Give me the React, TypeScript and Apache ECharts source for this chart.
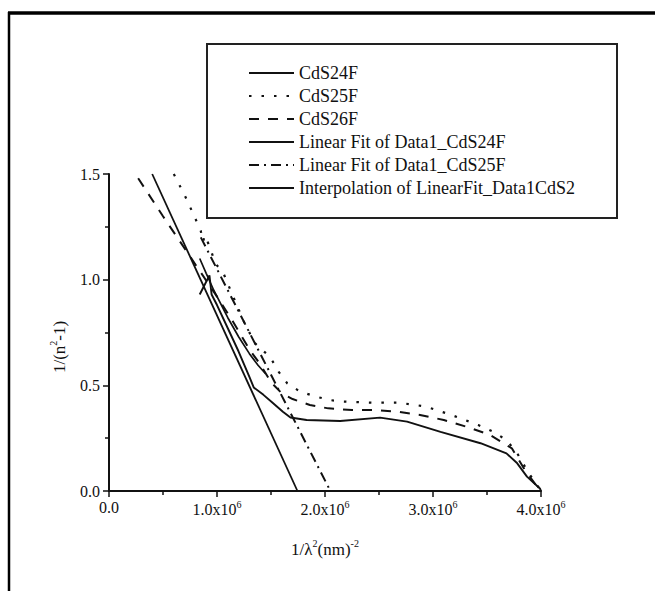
import React, { useEffect, useRef } from 'react';
import * as echarts from 'echarts';

// Series names (legend order)
const seriesNames = [
  'CdS24F',
  'CdS25F',
  'CdS26F',
  'Linear Fit of Data1_CdS24F',
  'Linear Fit of Data1_CdS25F',
  'Interpolation of LinearFit_Data1CdS2',
];

// CdS24F (solid)
const cds24fX = [840000, 880000, 930000, 950000, 1000000, 1100000, 1200000, 1300000, 1340000, 1430000, 1520000, 1610000, 1680000, 1830000, 2140000, 2510000, 2760000, 3070000, 3440000, 3680000, 3780000, 3870000, 3990000, 4000000];
const cds24fY = [0.93, 0.97, 1.02, 0.93, 0.88, 0.77, 0.66, 0.54, 0.49, 0.455, 0.415, 0.375, 0.348, 0.336, 0.331, 0.347, 0.328, 0.28, 0.226, 0.178, 0.131, 0.068, 0.012, 0.0];

// CdS25F (dotted)
const cds25fX = [600000, 700000, 790000, 850000, 870000, 890000, 920000, 950000, 980000, 1060000, 1150000, 1250000, 1350000, 1400000, 1490000, 1570000, 1650000, 1770000, 1920000, 2050000, 2170000, 2440000, 2680000, 2930000, 3170000, 3420000, 3560000, 3680000, 3780000, 3880000, 4000000];
const cds25fY = [1.5, 1.4, 1.3, 1.23, 1.18, 1.21, 1.17, 1.13, 1.08, 1.03, 0.92, 0.8, 0.7, 0.675, 0.636, 0.565, 0.51, 0.47, 0.446, 0.43, 0.423, 0.418, 0.418, 0.4, 0.36, 0.312, 0.28, 0.241, 0.178, 0.09, 0.0];

// CdS26F (dashed)
const cds26fX = [270000, 500000, 750000, 1000000, 1150000, 1300000, 1400000, 1500000, 1600000, 1700000, 1770000, 1860000, 2030000, 2250000, 2450000, 2680000, 2880000, 3100000, 3310000, 3530000, 3730000, 3850000, 3950000, 4000000];
const cds26fY = [1.48, 1.3, 1.11, 0.92, 0.8, 0.67, 0.6, 0.515, 0.462, 0.435, 0.423, 0.407, 0.391, 0.383, 0.383, 0.375, 0.36, 0.336, 0.304, 0.265, 0.202, 0.1, 0.03, 0.0];

// Linear fit of CdS24F (solid straight line)
const fit24X = [400000, 1745000];
const fit24Y = [1.5, 0.0];

// Linear fit of CdS25F (dashed straight line)
const fit25X = [850000, 2050000];
const fit25Y = [1.2, 0.0];

// Interpolation (solid)
const interpX = [840000, 900000, 970000, 1100000, 1200000, 1300000, 1380000, 1450000];
const interpY = [1.1, 1.03, 0.95, 0.82, 0.73, 0.65, 0.595, 0.555];

const xTicks = [0, 1000000, 2000000, 3000000, 4000000];
const yTicks = [0, 0.5, 1.0, 1.5];

const FONT = '"Liberation Serif", "Times New Roman", serif';
const INK = '#111';

function pairs(xs: number[], ys: number[]) {
  return xs.map((x, i) => [x, ys[i]]);
}

export default function App() {
  const ref = useRef<HTMLDivElement>(null);

  useEffect(() => {
    if (!ref.current) return;
    const chart = echarts.init(ref.current, undefined, { renderer: 'svg' });

    const lineSeries = (name: string, xs: number[], ys: number[], type: any, width = 1.8) => ({
      name,
      type: 'line',
      data: pairs(xs, ys),
      showSymbol: false,
      symbol: 'none',
      smooth: false,
      lineStyle: { color: INK, width, type },
      itemStyle: { color: INK },
      emphasis: { disabled: true },
    });

    const supRich = (base: number) => ({
      b: { fontSize: base, fontFamily: FONT, color: INK, fill: INK, lineHeight: base + 2, verticalAlign: 'bottom' },
      s: { fontSize: 10, fontFamily: FONT, color: INK, fill: INK, lineHeight: 8, verticalAlign: 'top' },
      z: { fontSize: base, fontFamily: FONT, color: INK, fill: INK, lineHeight: base },
    });

    const option: any = {
      animation: false,
      backgroundColor: '#fff',
      grid: { left: 109, top: 174, width: 432, height: 317, containLabel: false },
      legend: {
        data: seriesNames,
        orient: 'vertical',
        left: 248,
        top: 64,
        padding: 0,
        itemWidth: 45,
        itemHeight: 18,
        itemGap: 5,
        selectedMode: false,
        itemStyle: { opacity: 0 },
        textStyle: { fontSize: 18, lineHeight: 18, fontFamily: FONT, color: INK },
      },
      xAxis: {
        type: 'value',
        min: xTicks[0],
        max: xTicks[xTicks.length - 1],
        interval: 1000000,
        axisLine: { show: true, onZero: false, lineStyle: { color: INK, width: 2 } },
        axisTick: { show: true, inside: false, length: 6, lineStyle: { color: INK, width: 1.5 } },
        minorTick: { show: true, splitNumber: 2, length: 4, lineStyle: { color: INK, width: 1.5 } },
        splitLine: { show: false },
        minorSplitLine: { show: false },
        axisLabel: {
          margin: 8,
          color: INK,
          fontFamily: FONT,
          formatter: (v: number) =>
            v === 0 ? '{z|0.0}' : `{b|${(v / 1000000).toFixed(1)}x10}{s|6}`,
          rich: supRich(16),
        },
      },
      yAxis: {
        type: 'value',
        min: yTicks[0],
        max: yTicks[yTicks.length - 1],
        interval: 0.5,
        axisLine: { show: true, onZero: false, lineStyle: { color: INK, width: 2 } },
        axisTick: { show: true, inside: false, length: 6, lineStyle: { color: INK, width: 1.5 } },
        minorTick: { show: true, splitNumber: 2, length: 4, lineStyle: { color: INK, width: 1.5 } },
        splitLine: { show: false },
        minorSplitLine: { show: false },
        axisLabel: {
          margin: 9,
          fontSize: 16,
          fontFamily: FONT,
          color: INK,
          formatter: (v: number) => v.toFixed(1),
        },
      },
      graphic: [
        // outer frame (top & left rules)
        { type: 'line', shape: { x1: 8, y1: 13, x2: 655, y2: 13 }, style: { stroke: '#000', lineWidth: 3.5 }, z: 10 },
        { type: 'line', shape: { x1: 9, y1: 12, x2: 9, y2: 591 }, style: { stroke: '#000', lineWidth: 2.5 }, z: 10 },
        // legend box
        { type: 'rect', shape: { x: 207, y: 44, width: 410, height: 174 }, style: { fill: 'none', stroke: '#222', lineWidth: 2 }, z: 10 },
        // y axis title
        {
          type: 'text',
          x: 58,
          y: 347,
          rotation: Math.PI / 2,
          style: {
            text: '{b|1/(n}{s|2}{b|-1)}',
            align: 'center',
            verticalAlign: 'middle',
            rich: supRich(17),
          },
        },
        // x axis title
        {
          type: 'text',
          x: 325,
          y: 548,
          style: {
            text: '{b|1/λ}{s|2}{b|(nm)}{s|-2}',
            align: 'center',
            verticalAlign: 'middle',
            rich: supRich(17),
          },
        },
      ],
      series: [
        lineSeries(seriesNames[0], cds24fX, cds24fY, 'solid', 1.9),
        lineSeries(seriesNames[1], cds25fX, cds25fY, [2.5, 10], 2.2),
        lineSeries(seriesNames[2], cds26fX, cds26fY, [10, 9], 2),
        lineSeries(seriesNames[3], fit24X, fit24Y, 'solid', 1.8),
        lineSeries(seriesNames[4], fit25X, fit25Y, [10, 5, 2, 5], 2),
        lineSeries(seriesNames[5], interpX, interpY, 'solid', 1.7),
      ],
    };

    chart.setOption(option);
    return () => chart.dispose();
  }, []);

  return (
    <div
      ref={ref}
      style={{ position: 'absolute', left: 0, top: 0, width: 655, height: 591, background: '#fff' }}
    />
  );
}
